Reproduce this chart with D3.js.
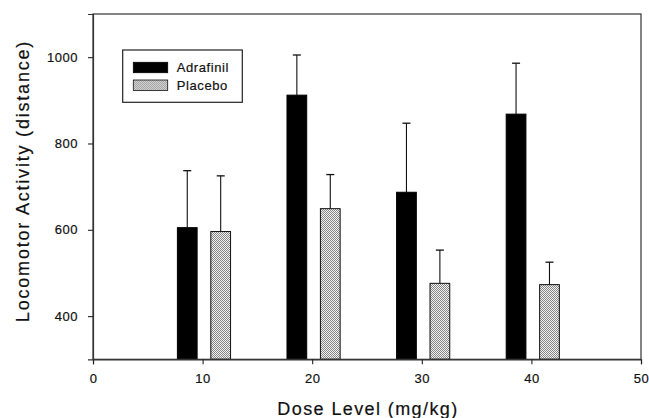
<!DOCTYPE html>
<html>
<head>
<meta charset="utf-8">
<script src="https://cdn.jsdelivr.net/npm/d3@7/dist/d3.min.js"></script>
<style>
  html, body { margin: 0; padding: 0; background: #fff; }
  svg { display: block; }
  text { font-family: "Liberation Sans", Arial, sans-serif; fill: #111; stroke: #111; stroke-width: 0.2px; }
</style>
</head>
<body>
<svg id="chart" width="649" height="418"></svg>
<script>
// Dose levels (mg/kg) and group means with upper error bars
const doses = [10, 20, 30, 40];
const adrafinil = [605, 912, 687, 868];
const adrafinilErr = [132, 93, 160, 118];
const placebo = [596, 649, 476, 473];
const placeboErr = [129, 79, 77, 52];

const xTicks = [0, 10, 20, 30, 40, 50];
const yTicks = [400, 600, 800, 1000];
const seriesNames = ["Adrafinil", "Placebo"];

const svg = d3.select("#chart");
const plot = { left: 93, right: 641, top: 14, bottom: 359.3 };

const x = d3.scaleLinear().domain([0, 50]).range([plot.left, plot.right]);
const y = d3.scaleLinear().domain([300, 1100]).range([plot.bottom, plot.top]);

// Stippled fill for the placebo bars
const defs = svg.append("defs");
const pat = defs.append("pattern")
  .attr("id", "stipple")
  .attr("patternUnits", "userSpaceOnUse")
  .attr("width", 2).attr("height", 2);
pat.append("rect").attr("width", 2).attr("height", 2).attr("fill", "#f2f2f2");
pat.append("rect").attr("x", 0).attr("y", 0).attr("width", 1).attr("height", 1).attr("fill", "#858585");
pat.append("rect").attr("x", 1).attr("y", 1).attr("width", 1).attr("height", 1).attr("fill", "#858585");

// Bar placement around each dose (in dose units)
const barWidth = 1.8;
const series = [
  { name: seriesNames[0], values: adrafinil, err: adrafinilErr, offset: -2.3, fill: "#000", stroke: "#000" },
  { name: seriesNames[1], values: placebo, err: placeboErr, offset: 0.75, fill: "url(#stipple)", stroke: "#111" }
];

series.forEach(s => {
  const g = svg.append("g");
  const rows = doses.map((d, i) => ({ dose: d, v: s.values[i], e: s.err[i] }));
  g.selectAll("rect").data(rows).join("rect")
    .attr("x", d => x(d.dose + s.offset))
    .attr("width", d => x(d.dose + s.offset + barWidth) - x(d.dose + s.offset))
    .attr("y", d => y(d.v))
    .attr("height", d => y(300) - y(d.v))
    .attr("fill", s.fill)
    .attr("stroke", s.stroke)
    .attr("stroke-width", 1);

  // upper error bars
  const cx = d => x(d.dose + s.offset + barWidth / 2);
  g.selectAll("line.err").data(rows).join("line")
    .attr("class", "err")
    .attr("x1", cx).attr("x2", cx)
    .attr("y1", d => y(d.v)).attr("y2", d => y(d.v + d.e))
    .attr("stroke", "#111").attr("stroke-width", 1.1);
  g.selectAll("line.cap").data(rows).join("line")
    .attr("class", "cap")
    .attr("x1", d => cx(d) - 4).attr("x2", d => cx(d) + 4)
    .attr("y1", d => y(d.v + d.e)).attr("y2", d => y(d.v + d.e))
    .attr("stroke", "#111").attr("stroke-width", 1.3);
});

// Frame
svg.append("rect")
  .attr("x", plot.left).attr("y", plot.top)
  .attr("width", plot.right - plot.left).attr("height", plot.bottom - plot.top)
  .attr("fill", "none").attr("stroke", "#333").attr("stroke-width", 1.2);

// Axes
const xAxis = svg.append("g")
  .attr("transform", `translate(0,${plot.bottom})`)
  .call(d3.axisBottom(x).tickValues(xTicks).tickSize(5).tickPadding(9.5).tickFormat(d3.format("d")));
const yAxis = svg.append("g")
  .attr("transform", `translate(${plot.left},0)`)
  .call(d3.axisLeft(y).tickValues(yTicks).tickSize(5).tickPadding(10).tickFormat(d3.format("d")));

[xAxis, yAxis].forEach(a => {
  a.select(".domain").attr("stroke", "#333").attr("stroke-width", 1.2);
  a.selectAll(".tick line").attr("stroke", "#222").attr("stroke-width", 1.1);
  a.selectAll(".tick text")
    .attr("fill", "#111")
    .style("font-family", "'Liberation Sans', Arial, sans-serif")
    .style("font-size", "13px")
    .style("letter-spacing", "0.5px");
});

// Axis titles
svg.append("text")
  .attr("x", 368).attr("y", 415)
  .attr("text-anchor", "middle")
  .style("font-size", "18px")
  .style("letter-spacing", "1.4px")
  .text("Dose Level (mg/kg)");

svg.append("text")
  .attr("transform", `translate(29,181) rotate(-90)`)
  .attr("text-anchor", "middle")
  .style("font-size", "18px")
  .style("letter-spacing", "1.8px")
  .text("Locomotor Activity (distance)");

// Legend
const legend = svg.append("g");
legend.append("rect")
  .attr("x", 122.7).attr("y", 50)
  .attr("width", 119.6).attr("height", 52.3)
  .attr("fill", "#fff").attr("stroke", "#222").attr("stroke-width", 1.2);
series.forEach((s, i) => {
  const row = legend.append("g").attr("transform", `translate(0,${i * 17.7})`);
  row.append("rect")
    .attr("x", 133.3).attr("y", 62.3)
    .attr("width", 34.4).attr("height", 10.4)
    .attr("fill", s.fill).attr("stroke", s.stroke).attr("stroke-width", 0.8);
  row.append("text")
    .attr("x", 176.7).attr("y", 72.3)
    .style("font-size", "13px")
    .style("letter-spacing", "0.6px")
    .text(s.name);
});
</script>
</body>
</html>
